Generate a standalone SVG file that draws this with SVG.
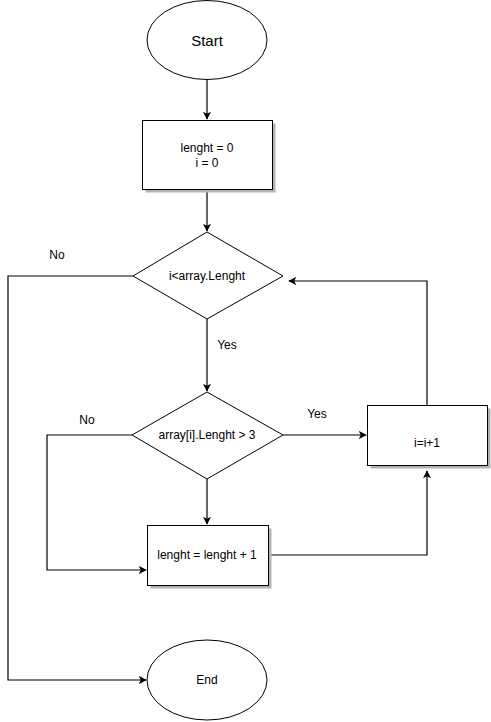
<svg xmlns="http://www.w3.org/2000/svg" width="491" height="722" viewBox="0 0 491 722">
  <defs>
    <marker id="arrow" viewBox="0 0 10 10" refX="9" refY="5" markerWidth="8" markerHeight="8" markerUnits="userSpaceOnUse" orient="auto">
      <path d="M0,0 L10,5 L0,10 L2.5,5 Z" fill="#000"/>
    </marker>
  </defs>
  <style>
    .shape { fill: #fff; stroke: #000; stroke-width: 1; }
    .shadow { fill: #b3b3b3; }
    .label { font-family: "Liberation Sans", Arial, sans-serif; font-size: 12px; fill: #000; text-anchor: middle; dominant-baseline: central; }
    .edge { fill: none; stroke: #000; stroke-width: 1.2; }
  </style>
  <rect width="491" height="722" fill="#fff"/>

  <g id="connectors">
    <path class="edge" d="M207,80 V119" marker-end="url(#arrow)"/>
    <path class="edge" d="M207,190 V231" marker-end="url(#arrow)"/>
    <path class="edge" d="M207,319 V391" marker-end="url(#arrow)"/>
    <path class="edge" d="M133,276 H8 V680 H146" marker-end="url(#arrow)"/>
    <path class="edge" d="M207,479 V524" marker-end="url(#arrow)"/>
    <path class="edge" d="M132,435 H47 V570 H146" marker-end="url(#arrow)"/>
    <path class="edge" d="M283,435 H366" marker-end="url(#arrow)"/>
    <path class="edge" d="M269,555 H427 V471" marker-end="url(#arrow)"/>
    <path class="edge" d="M427,405 V281 H289" marker-end="url(#arrow)"/>
    <text class="label" x="57" y="255">No</text>
    <text class="label" x="227" y="345">Yes</text>
    <text class="label" x="87" y="420">No</text>
    <text class="label" x="317" y="414">Yes</text>
  </g>

  <g id="start">
    <ellipse class="shape" cx="207" cy="40" rx="60" ry="39.5"/>
    <text class="label" x="207" y="40" style="font-size:15px">Start</text>
  </g>

  <g id="init">
    <rect class="shadow" x="145.5" y="123.5" width="130" height="69"/>
    <rect class="shape" x="142.5" y="120.5" width="130" height="69"/>
    <text class="label" x="207" y="148">lenght = 0</text>
    <text class="label" x="207" y="163">i = 0</text>
  </g>

  <g id="loop-check">
    <polygon class="shape" points="207,232 283,276 207,319 133,276"/>
    <text class="label" x="207" y="276">i&lt;array.Lenght</text>
  </g>

  <g id="length-check">
    <polygon class="shape" points="207,392 283,435 207,479 132,435"/>
    <text class="label" x="207" y="435">array[i].Lenght &gt; 3</text>
  </g>

  <g id="count">
    <rect class="shadow" x="150.5" y="528.5" width="121" height="60"/>
    <rect class="shape" x="147.5" y="525.5" width="121" height="60"/>
    <text class="label" x="207" y="555">lenght = lenght + 1</text>
  </g>

  <g id="increment">
    <rect class="shadow" x="370.5" y="408.5" width="120" height="60"/>
    <rect class="shape" x="367.5" y="405.5" width="120" height="60"/>
    <text class="label" x="427" y="443">i=i+1</text>
  </g>

  <g id="end">
    <ellipse class="shape" cx="207" cy="680" rx="60" ry="40"/>
    <text class="label" x="207" y="680">End</text>
  </g>
</svg>
